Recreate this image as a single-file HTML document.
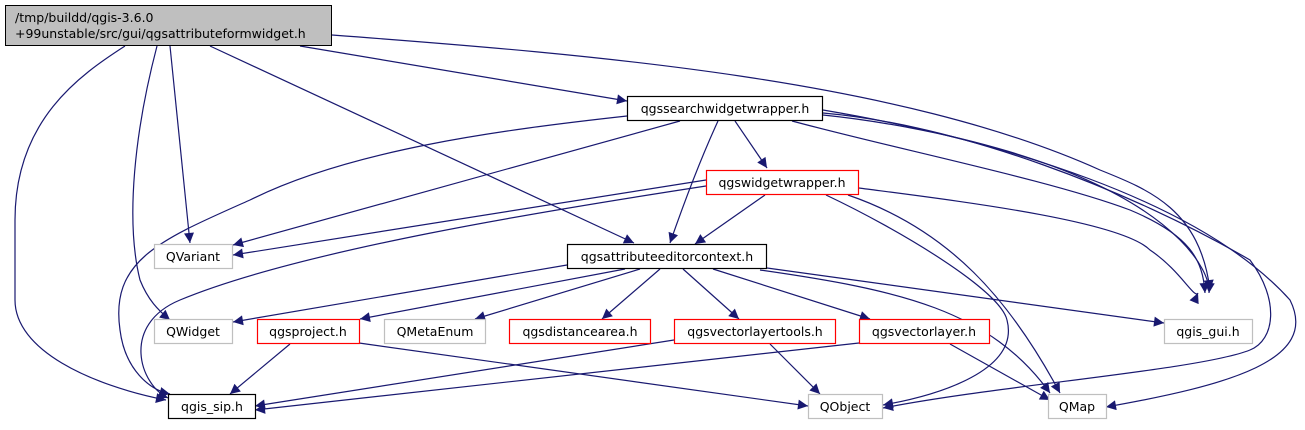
<!DOCTYPE html>
<html><head><meta charset="utf-8"><style>
body{margin:0;background:#fff;width:1305px;height:425px;overflow:hidden}
svg text{font-family:"DejaVu Sans","Liberation Sans",sans-serif;font-size:12.5px}
</style></head><body>
<svg width="1305" height="425" viewBox="0 0 1305 425" xmlns="http://www.w3.org/2000/svg">
<defs><marker id="a" viewBox="0 0 10 10" refX="10" refY="5" markerWidth="11" markerHeight="10" markerUnits="userSpaceOnUse" orient="auto"><path d="M0,0 L10,5 L0,10 z" fill="#191970"/></marker></defs>
<g fill="none" stroke="#191970" stroke-width="1.2" marker-end="url(#a)">
<path d="M125,46 C80,75 15,120 15,220 L15,300 C15,350 90,385 166,400"/>
<path d="M157,46 C135,130 125,220 140,280 C148,300 158,310 170,320"/>
<path d="M170,46 L190,243"/>
<path d="M210,46 L634,243"/>
<path d="M300,46 L627,101"/>
<path d="M332,35 C600,55 900,80 1100,170 C1150,190 1200,210 1210,290"/>
<path d="M627,116 C500,130 350,150 250,200 C160,240 110,260 120,330 C125,370 150,390 170,394"/>
<path d="M680,121 L233,245"/>
<path d="M718,121 C700,160 685,200 670,243"/>
<path d="M735,121 L767,168"/>
<path d="M792,121 C900,150 1050,180 1130,210 C1190,235 1203,260 1205,293"/>
<path d="M823,115 C920,125 1100,160 1180,240 C1200,260 1210,280 1209,293"/>
<path d="M823,113 C960,125 1130,190 1250,260 C1280,300 1275,340 1250,350 C1200,370 1000,385 883,408"/>
<path d="M823,110 C1000,140 1200,200 1290,300 C1320,360 1230,385 1106,407"/>
<path d="M706,180 L233,255"/>
<path d="M706,186 C550,210 300,250 180,300 C120,325 140,385 168,398"/>
<path d="M765,195 L695,244"/>
<path d="M826,195 C900,230 1000,290 1007,320 C1020,370 940,395 883,405"/>
<path d="M848,195 C950,230 1010,300 1060,393"/>
<path d="M859,188 C950,200 1120,220 1150,250 C1180,270 1195,300 1198,293"/>
<path d="M567,265 L233,322"/>
<path d="M625,269 L360,319"/>
<path d="M640,269 L475,319"/>
<path d="M660,269 L602,319"/>
<path d="M683,269 L739,319"/>
<path d="M713,269 L870,319"/>
<path d="M767,268 L1164,323"/>
<path d="M760,270 C900,290 990,310 1050,393"/>
<path d="M290,344 L230,394"/>
<path d="M359,343 L808,406"/>
<path d="M674,340 L255,406"/>
<path d="M770,344 L820,394"/>
<path d="M859,343 L255,410"/>
<path d="M950,344 L1050,400"/>
</g>
<rect x="5.5" y="5.5" width="326" height="40" fill="#bfbfbf" stroke="#000"/>
<text x="15" y="22">/tmp/buildd/qgis-3.6.0</text>
<text x="15" y="38">+99unstable/src/gui/qgsattributeformwidget.h</text>
<g fill="#fff" stroke-width="1.2">
<rect x="627.5" y="96.5" width="195" height="24" style="stroke:#000"/>
<rect x="706.5" y="170.5" width="152" height="24" style="stroke:#ff0000"/>
<rect x="567.5" y="244.5" width="199" height="24" style="stroke:#000"/>
<rect x="154.5" y="244.5" width="78" height="24" style="stroke:#bfbfbf"/>
<rect x="154.5" y="319.5" width="78" height="24" style="stroke:#bfbfbf"/>
<rect x="257.5" y="319.5" width="102" height="24" style="stroke:#ff0000"/>
<rect x="384.5" y="319.5" width="101" height="24" style="stroke:#bfbfbf"/>
<rect x="509.5" y="319.5" width="141" height="24" style="stroke:#ff0000"/>
<rect x="674.5" y="319.5" width="161" height="24" style="stroke:#ff0000"/>
<rect x="859.5" y="319.5" width="130" height="24" style="stroke:#ff0000"/>
<rect x="1164.5" y="319.5" width="88" height="24" style="stroke:#bfbfbf"/>
<rect x="168.5" y="394.5" width="87" height="24" style="stroke:#000"/>
<rect x="808.5" y="394.5" width="74" height="24" style="stroke:#bfbfbf"/>
<rect x="1048.5" y="394.5" width="58" height="24" style="stroke:#bfbfbf"/>
</g>
<g text-anchor="middle" fill="#000">
<text x="725" y="113">qgssearchwidgetwrapper.h</text>
<text x="782" y="187">qgswidgetwrapper.h</text>
<text x="667" y="261">qgsattributeeditorcontext.h</text>
<text x="193" y="261">QVariant</text>
<text x="193" y="336">QWidget</text>
<text x="308" y="336">qgsproject.h</text>
<text x="435" y="336">QMetaEnum</text>
<text x="580" y="336">qgsdistancearea.h</text>
<text x="755" y="336">qgsvectorlayertools.h</text>
<text x="924" y="336">qgsvectorlayer.h</text>
<text x="1208" y="336">qgis_gui.h</text>
<text x="212" y="411">qgis_sip.h</text>
<text x="845" y="411">QObject</text>
<text x="1077" y="411">QMap</text>
</g>
</svg>
</body></html>
